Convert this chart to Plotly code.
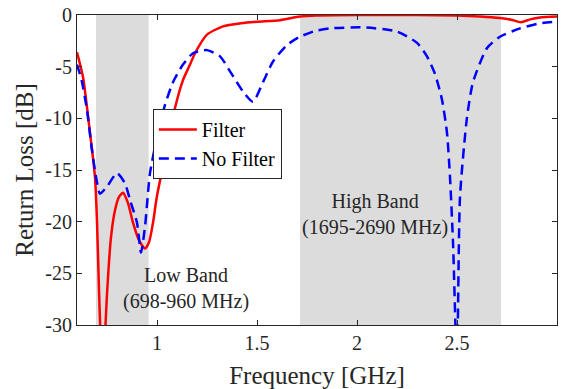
import plotly.graph_objects as go

# ---- data ----
filter_freq = [0.6, 0.63, 0.665, 0.69, 0.70, 0.71, 0.72, 0.73, 0.74, 0.75, 0.77, 0.79, 0.81, 0.83,
               0.855, 0.88, 0.91, 0.94, 0.96, 0.98, 1.0, 1.05, 1.09, 1.13, 1.165, 1.19, 1.25, 1.33,
               1.42, 1.5, 1.615, 1.715, 1.8, 2.0, 2.3, 2.5, 2.615, 2.715, 2.77, 2.82, 2.87, 2.915, 3.0]
filter_rl = [-3.6, -6.0, -11.4, -15.7, -20.0, -26.6, -32.0, -34.0, -31.0, -27.0, -21.5, -18.9, -17.6, -17.2,
             -18.2, -20.1, -21.8, -22.6, -22.0, -20.1, -17.5, -12.8, -9.0, -6.3, -4.8, -3.7, -1.9, -1.1,
             -0.8, -0.65, -0.5, -0.15, -0.05, 0.0, 0.0, -0.05, -0.15, -0.3, -0.45, -0.7, -0.4, -0.25, -0.15]

nofilter_freq = [0.6, 0.623, 0.65, 0.673, 0.698, 0.715, 0.75, 0.8, 0.84, 0.865, 0.9, 0.92, 0.94, 0.965,
                 1.005, 1.04, 1.08, 1.13, 1.18, 1.25, 1.315, 1.37, 1.43, 1.48, 1.53, 1.58, 1.65, 1.715,
                 1.79, 1.865, 2.03, 2.2, 2.3, 2.35, 2.39, 2.425, 2.45, 2.465, 2.48, 2.5, 2.515, 2.55,
                 2.58, 2.65, 2.715, 2.815, 2.915, 3.0]
nofilter_rl = [-4.8, -6.3, -9.2, -12.8, -16.0, -17.3, -16.6, -15.3, -16.3, -17.9, -20.1, -23.0, -20.5, -15.3,
               -11.4, -8.7, -6.5, -4.8, -3.7, -3.4, -4.0, -5.6, -7.4, -8.4, -6.5, -4.5, -2.9, -2.1,
               -1.55, -1.3, -1.2, -1.6, -2.7, -4.0, -5.7, -8.2, -11.4, -15.7, -22.0, -34.0, -17.6, -9.9,
               -6.5, -3.2, -2.1, -1.3, -0.8, -0.65]

bands = [(0.695, 0.958), (1.715, 2.72)]
band_labels = ["Low Band<br>(698-960 MHz)", "High Band<br>(1695-2690 MHz)"]
band_label_pos = [(1.145, -26.5), (2.09, -19.3)]

x_ticks = [1, 1.5, 2, 2.5, 3]
x_ticktext = ["1", "1.5", "2", "2.5", "3"]
y_ticks = [-30, -25, -20, -15, -10, -5, 0]
y_ticktext = ["-30", "-25", "-20", "-15", "-10", "-5", "0"]

FONT = "Liberation Serif, Times New Roman, serif"

fig = go.Figure()
fig.add_trace(go.Scatter(x=filter_freq, y=filter_rl, mode="lines", name="Filter",
                         line=dict(color="#ff0000", width=2.5, shape="spline", smoothing=0.6)))
fig.add_trace(go.Scatter(x=nofilter_freq, y=nofilter_rl, mode="lines", name="No Filter",
                         line=dict(color="#0000ff", width=2.5, dash="10px,6px", shape="spline", smoothing=0.6)))

for (x0, x1) in bands:
    fig.add_shape(type="rect", xref="x", yref="y", x0=x0, x1=x1, y0=-30, y1=0,
                  fillcolor="#dcdcdc", line=dict(width=0), layer="below")

for txt, (ax, ay) in zip(band_labels, band_label_pos):
    fig.add_annotation(x=ax, y=ay, text=txt, showarrow=False, xref="x", yref="y",
                       font=dict(family=FONT, size=20, color="#262626"))

axis_common = dict(showgrid=False, zeroline=False, showline=True, linecolor="#262626", linewidth=1,
                   mirror="ticks", ticks="inside", ticklen=5, tickcolor="#262626", automargin=False,
                   tickfont=dict(family=FONT, size=20, color="#262626"))

fig.update_xaxes(range=[0.6, 3], tickvals=x_ticks, ticktext=x_ticktext,
                 title=dict(text="Frequency [GHz]", font=dict(family=FONT, size=25, color="#262626")),
                 **axis_common)
fig.update_yaxes(range=[-30, 0], tickvals=y_ticks, ticktext=y_ticktext,
                 title=dict(text="Return Loss [dB]", font=dict(family=FONT, size=25, color="#262626"),
                            standoff=4),
                 **axis_common)

fig.update_layout(
    width=561, height=389,
    margin=dict(l=77, r=4, t=15, b=64),
    plot_bgcolor="white", paper_bgcolor="white",
    showlegend=True,
    legend=dict(x=0.158, y=0.697, xanchor="left", yanchor="top",
                bgcolor="white", bordercolor="#262626", borderwidth=1,
                font=dict(family=FONT, size=20, color="#000000"),
                tracegroupgap=0, itemwidth=38),
)

fig.write_html("out.html", config={"displayModeBar": False},
               post_script="document.body.style.margin='0';document.body.style.padding='0';")
